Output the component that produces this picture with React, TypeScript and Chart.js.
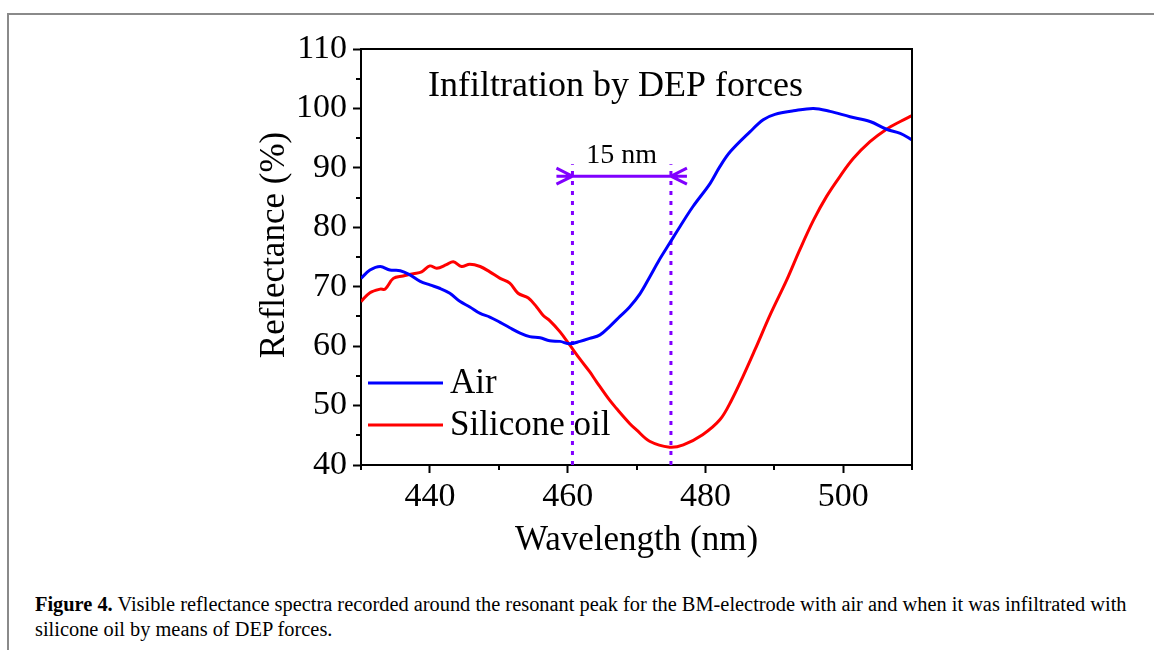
import React, { useEffect, useRef } from "react";
import { Chart, registerables } from "chart.js";

Chart.register(...registerables);

// ---- data ----
const airWavelength = [
  430, 431.3, 432.8, 434.2, 435.7, 437.1, 438.6, 440, 441.5, 442.9, 444.4, 445.8,
  447.3, 448.7, 450.2, 451.6, 453.1, 454.5, 456, 457.4, 458.9, 460.3, 461.8, 463.2,
  464.7, 466.1, 467.6, 469, 470.5, 471.9, 473.3, 474.8, 476.3, 478.2, 480.7, 482.1,
  483.6, 486.5, 488.4, 490.1, 492.8, 495.7, 498.1, 501, 503.9, 506.3, 508.3, 510,
];
const airReflectance = [
  71.4, 72.8, 73.4, 72.8, 72.7, 72.0, 70.9, 70.3, 69.7, 68.9, 67.5, 66.6,
  65.5, 64.9, 64.0, 63.1, 62.2, 61.6, 61.4, 60.9, 60.8, 60.4, 60.8, 61.3,
  61.9, 63.3, 65.0, 66.6, 68.8, 71.6, 74.5, 77.3, 80.1, 83.5, 87.4, 90.2,
  92.7, 96.1, 98.1, 99.0, 99.6, 100.0, 99.5, 98.6, 97.8, 96.5, 95.8, 94.7,
];
const oilWavelength = [
  430, 431.3, 432.8, 433.5, 434.7, 436.1, 437.6, 438.8, 440, 441, 442.4, 443.4,
  444.6, 445.8, 447.3, 448.7, 450.2, 451.6, 452.8, 454.3, 455.5, 456.5, 457.4, 458.9,
  460.3, 461.8, 463.2, 464.2, 466.1, 467.1, 469, 470, 471.9, 474.8, 476.8, 479.6,
  482.1, 483.8, 485.5, 487.2, 489.5, 491.8, 493.7, 495.7, 497.6, 499.5, 501.5, 503.9,
  506.3, 508.3, 510,
];
const oilReflectance = [
  67.5, 69.0, 69.6, 69.6, 71.4, 71.8, 72.2, 72.5, 73.5, 73.1, 73.7, 74.2,
  73.4, 73.8, 73.4, 72.5, 71.4, 70.6, 68.9, 68.1, 66.6, 65.1, 64.3, 62.4,
  60.2, 57.8, 55.7, 54.0, 50.9, 49.5, 47.0, 45.9, 44.0, 43.0, 43.4, 45.1,
  47.6, 50.9, 55.0, 59.4, 65.5, 71.1, 76.2, 81.2, 85.2, 88.5, 91.6, 94.4,
  96.5, 97.8, 98.8,
];

const seriesNames = ["Air", "Silicone oil"];
const seriesColors = ["#0000ff", "#ff0000"];

const xTicks = [440, 460, 480, 500];
const xMinorTicks = [430, 450, 470, 490, 510];
const yTicks = [40, 50, 60, 70, 80, 90, 100, 110];
const yMinorTicks = [45, 55, 65, 75, 85, 95, 105];

const markerWavelengths = [460.7, 475.0];
const markerTop = 90.6;
const arrowLevel = 88.6;
const gapLabel = "15 nm";
const plotTitle = "Infiltration by DEP forces";
const xTitle = "Wavelength (nm)";
const yTitle = "Reflectance (%)";

const SERIF = "'Liberation Serif', 'Times New Roman', serif";
const PURPLE = "#8000ff";

const overlayPlugin = {
  id: "overlay",
  afterDraw(chart: any) {
    const { ctx, chartArea } = chart;
    const xs = chart.scales.x;
    const ys = chart.scales.y;
    ctx.save();
    // box (top & right)
    ctx.strokeStyle = "#000";
    ctx.lineWidth = 2;
    ctx.beginPath();
    ctx.moveTo(chartArea.left, chartArea.top);
    ctx.lineTo(chartArea.right, chartArea.top);
    ctx.lineTo(chartArea.right, chartArea.bottom);
    ctx.stroke();
    // minor ticks
    ctx.beginPath();
    for (const v of yMinorTicks) {
      const py = Math.round(ys.getPixelForValue(v));
      ctx.moveTo(chartArea.left - 5, py);
      ctx.lineTo(chartArea.left, py);
    }
    for (const v of xMinorTicks) {
      const px = Math.round(xs.getPixelForValue(v));
      ctx.moveTo(px, chartArea.bottom);
      ctx.lineTo(px, chartArea.bottom + 5);
    }
    ctx.stroke();

    // arrow between markers
    const xl = xs.getPixelForValue(markerWavelengths[0]);
    const xr = xs.getPixelForValue(markerWavelengths[1]);
    const ay = ys.getPixelForValue(arrowLevel);
    ctx.strokeStyle = PURPLE;
    ctx.lineWidth = 3;
    ctx.beginPath();
    ctx.moveTo(xl - 16, ay);
    ctx.lineTo(xr + 16, ay);
    ctx.moveTo(xl - 16, ay - 8);
    ctx.lineTo(xl, ay);
    ctx.lineTo(xl - 16, ay + 8);
    ctx.moveTo(xr + 16, ay - 8);
    ctx.lineTo(xr, ay);
    ctx.lineTo(xr + 16, ay + 8);
    ctx.stroke();

    // texts
    ctx.fillStyle = "#000";
    ctx.textBaseline = "alphabetic";
    ctx.textAlign = "center";
    ctx.font = `28px ${SERIF}`;
    ctx.fillText(gapLabel, (xl + xr) / 2, ay - 13);

    ctx.textAlign = "left";
    ctx.font = `36px ${SERIF}`;
    ctx.fillText(plotTitle, 428, 96);

    // legend
    const legendY = [383, 425];
    ctx.font = `35px ${SERIF}`;
    seriesNames.forEach((name, i) => {
      ctx.strokeStyle = seriesColors[i];
      ctx.lineWidth = 3;
      ctx.beginPath();
      ctx.moveTo(368, legendY[i]);
      ctx.lineTo(443, legendY[i]);
      ctx.stroke();
      ctx.fillStyle = "#000";
      ctx.textBaseline = "middle";
      ctx.fillText(name, 450, legendY[i] + 1);
    });

    // axis titles
    ctx.textAlign = "center";
    ctx.textBaseline = "middle";
    ctx.font = `35px ${SERIF}`;
    ctx.fillText(xTitle, (chartArea.left + chartArea.right) / 2, 541);
    ctx.save();
    ctx.translate(275, 245);
    ctx.rotate(-Math.PI / 2);
    ctx.fillText(yTitle, 0, 0);
    ctx.restore();

    ctx.restore();
  },
};

export default function App() {
  const canvasRef = useRef<HTMLCanvasElement>(null);
  const line1Ref = useRef<HTMLDivElement>(null);
  const line2Ref = useRef<HTMLDivElement>(null);

  useEffect(() => {
    const canvas = canvasRef.current;
    if (!canvas) return;
    const markerSets = markerWavelengths.map((w) => ({
      label: "marker",
      data: [
        { x: w, y: 40 },
        { x: w, y: markerTop },
      ],
      borderColor: PURPLE,
      borderWidth: 3,
      borderDash: [4, 6],
      pointRadius: 0,
      order: 2,
    }));
    const chart = new Chart(canvas, {
      type: "line",
      data: {
        datasets: [
          {
            label: seriesNames[0],
            data: airWavelength.map((x, i) => ({ x, y: airReflectance[i] })),
            borderColor: seriesColors[0],
            borderWidth: 3,
            pointRadius: 0,
            tension: 0.35,
            order: 1,
          },
          {
            label: seriesNames[1],
            data: oilWavelength.map((x, i) => ({ x, y: oilReflectance[i] })),
            borderColor: seriesColors[1],
            borderWidth: 3,
            pointRadius: 0,
            tension: 0.35,
            order: 1,
          },
          ...markerSets,
        ],
      },
      options: {
        responsive: false,
        animation: false,
        devicePixelRatio: 1,
        layout: { padding: { top: 49, right: 242, left: 0, bottom: 0 } },
        plugins: { legend: { display: false }, tooltip: { enabled: false } },
        scales: {
          x: {
            type: "linear",
            min: 430,
            max: 510,
            afterBuildTicks: (scale: any) => {
              scale.ticks = xTicks.map((v) => ({ value: v }));
            },
            afterFit: (scale: any) => {
              scale.height = 105;
            },
            grid: {
              drawOnChartArea: false,
              drawTicks: true,
              tickLength: 8,
              tickWidth: 2,
              tickColor: "#000",
            },
            border: { display: true, color: "#000", width: 2 },
            ticks: {
              autoSkip: false,
              maxRotation: 0,
              padding: 4,
              color: "#000",
              font: { family: SERIF, size: 34 },
            },
          },
          y: {
            type: "linear",
            min: 40,
            max: 110,
            afterBuildTicks: (scale: any) => {
              scale.ticks = yTicks.map((v) => ({ value: v }));
            },
            afterFit: (scale: any) => {
              scale.width = 361;
            },
            grid: {
              drawOnChartArea: false,
              drawTicks: true,
              tickLength: 8,
              tickWidth: 2,
              tickColor: "#000",
            },
            border: { display: true, color: "#000", width: 2 },
            ticks: {
              autoSkip: false,
              padding: 6,
              color: "#000",
              font: { family: SERIF, size: 34 },
            },
          },
        },
      },
      plugins: [overlayPlugin],
    });

    // fit caption width
    const l1 = line1Ref.current;
    const l2 = line2Ref.current;
    if (l1 && l2) {
      const w = l1.scrollWidth;
      const s = w > 0 ? 1092 / w : 1;
      l1.style.transform = `scaleX(${s})`;
      l2.style.transform = `scaleX(${s})`;
    }
    return () => chart.destroy();
  }, []);

  const lineStyle: React.CSSProperties = {
    whiteSpace: "nowrap",
    display: "block",
    width: "max-content",
    transformOrigin: "0 0",
    height: 25,
  };

  return (
    <div
      style={{
        position: "fixed",
        left: 0,
        top: 0,
        width: 1154,
        height: 650,
        background: "#fff",
        overflow: "hidden",
      }}
    >
      <div
        style={{
          position: "absolute",
          left: 7,
          top: 13,
          width: 1154,
          height: 650,
          borderTop: "2px solid #8a8a8a",
          borderLeft: "2px solid #8a8a8a",
        }}
      />
      <canvas
        ref={canvasRef}
        width={1154}
        height={570}
        style={{ position: "absolute", left: 0, top: 0, width: 1154, height: 570 }}
      />
      <div
        style={{
          position: "absolute",
          left: 35,
          top: 592,
          fontFamily: SERIF,
          fontSize: 20,
          lineHeight: "25px",
          color: "#000",
        }}
      >
        <div ref={line1Ref} style={lineStyle}>
          <b>Figure 4.</b> Visible reflectance spectra recorded around the resonant peak for the
          BM-electrode with air and when it was infiltrated with
        </div>
        <div ref={line2Ref} style={lineStyle}>
          silicone oil by means of DEP forces.
        </div>
      </div>
    </div>
  );
}
